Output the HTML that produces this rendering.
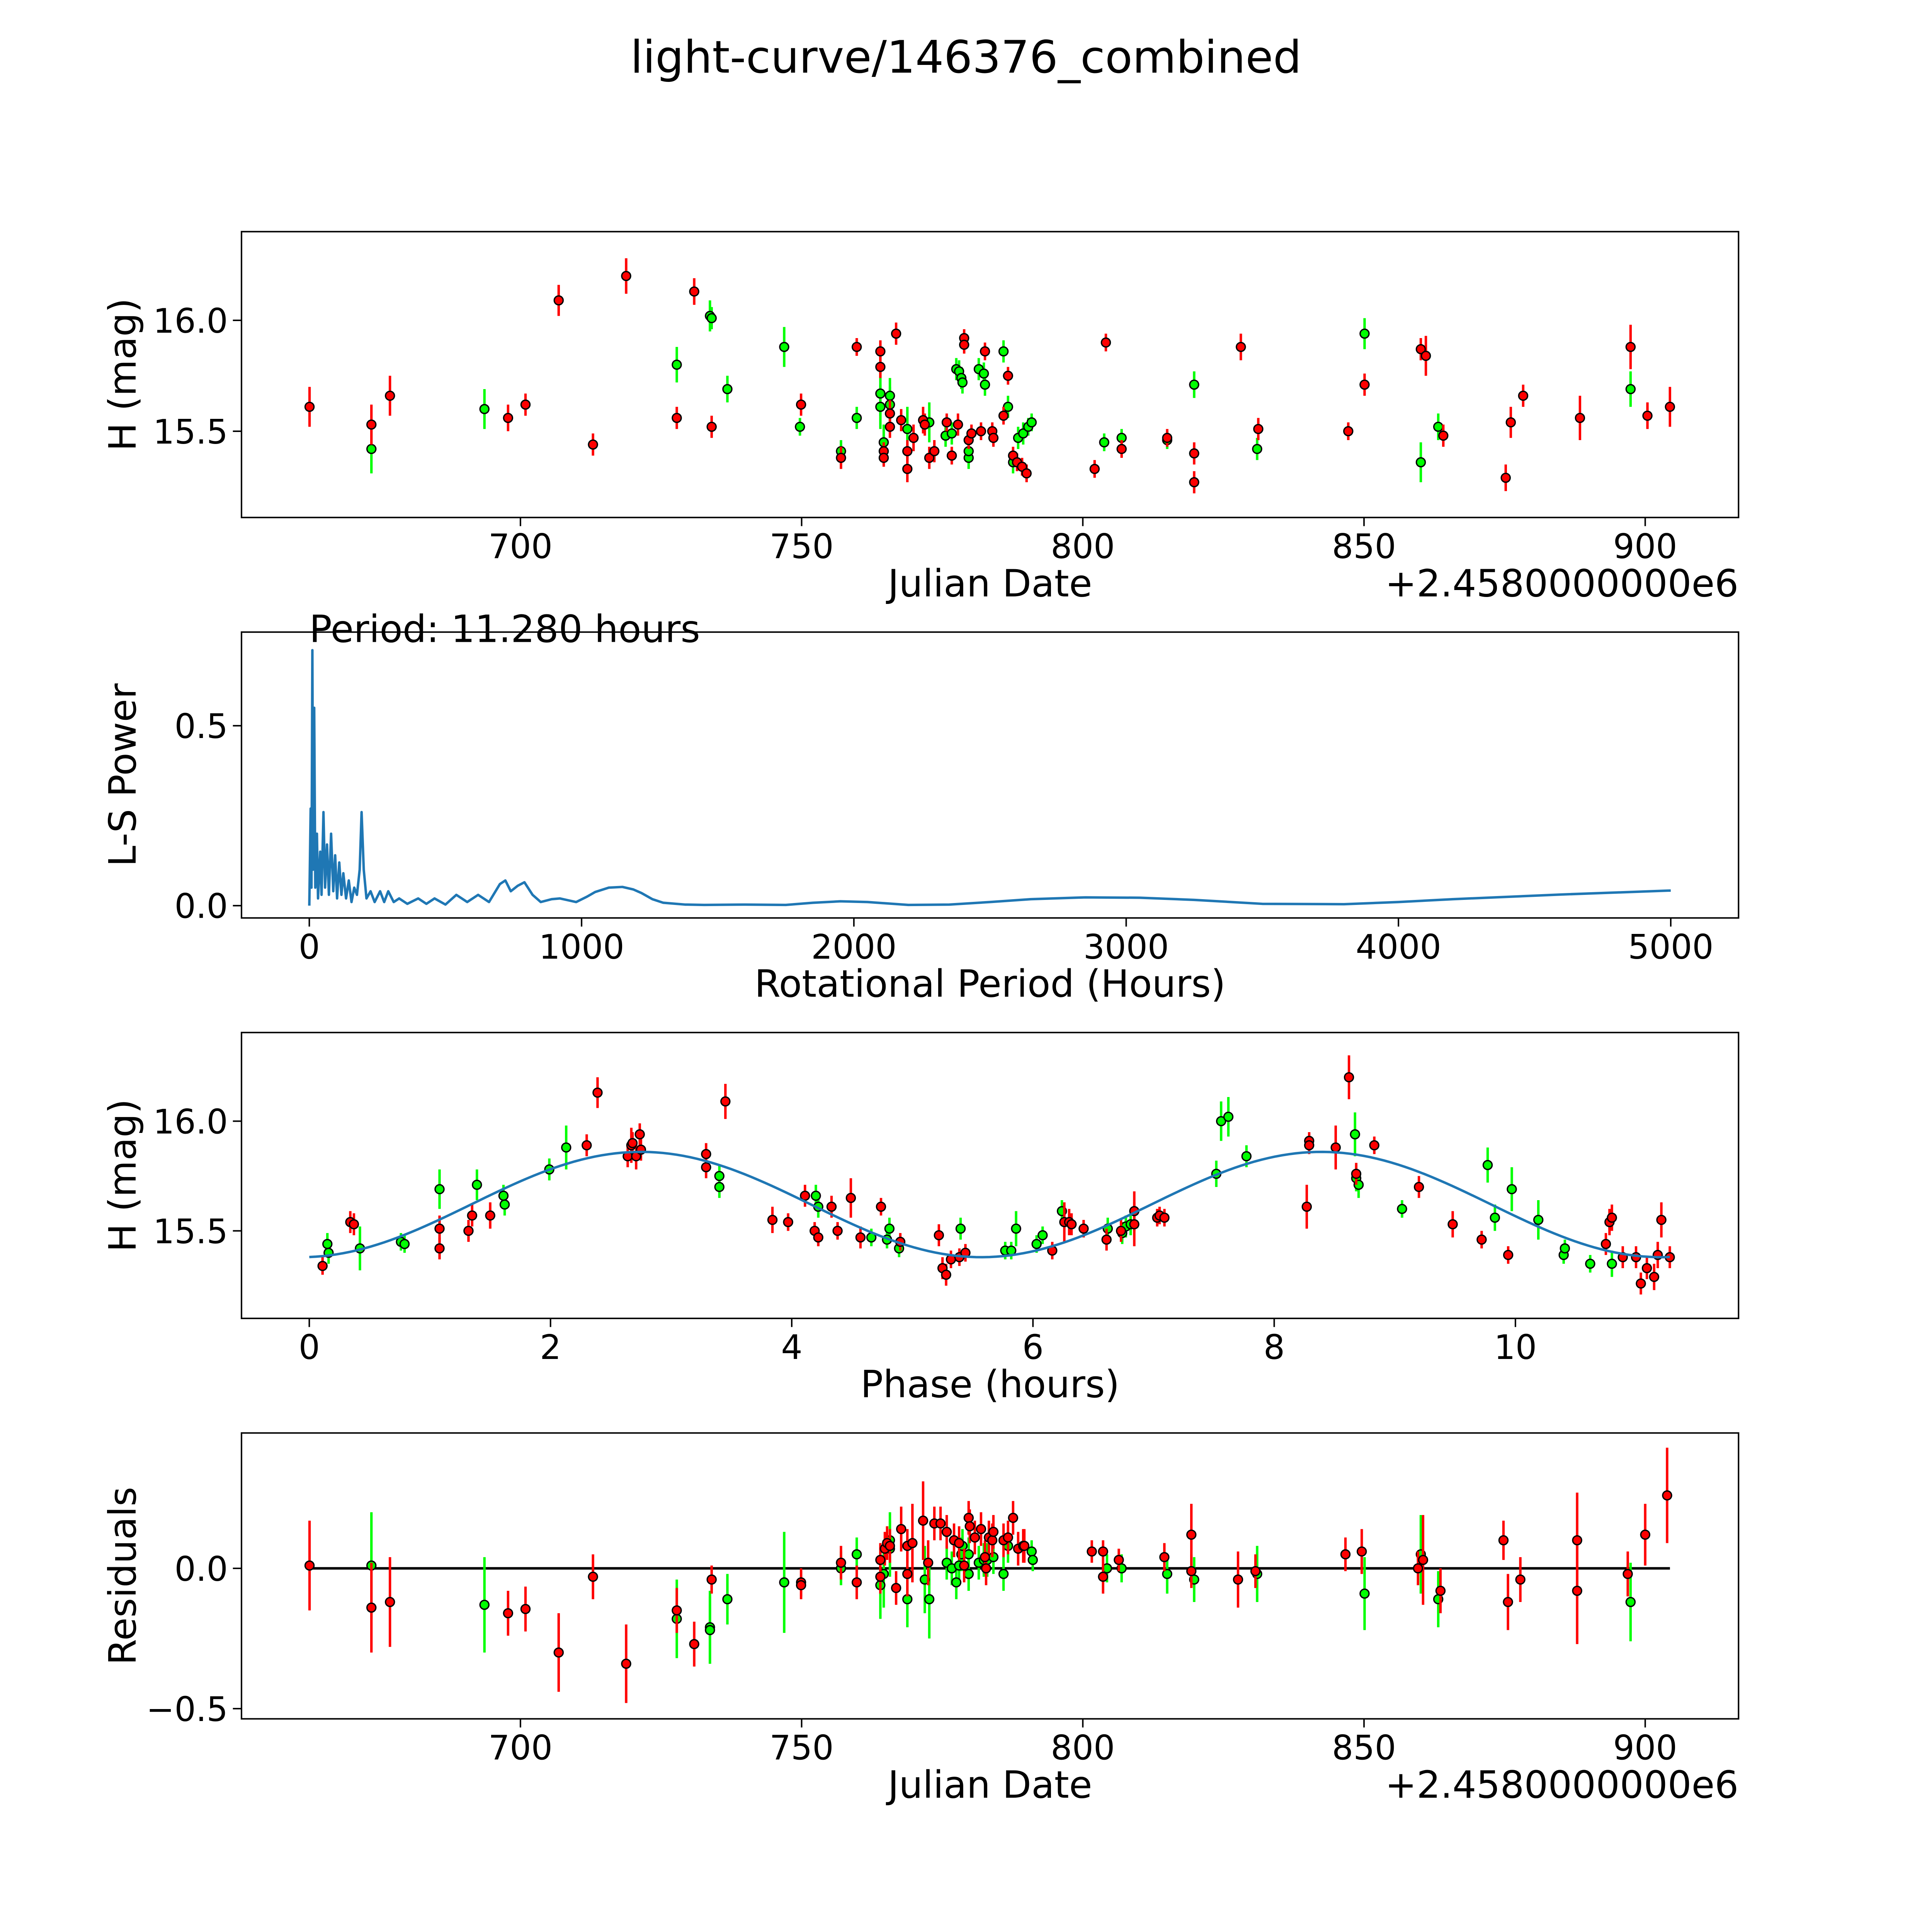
<!DOCTYPE html>
<html><head><meta charset="utf-8">
<style>
html,body{margin:0;padding:0;background:#fff;overflow:hidden;width:100vw;height:100vh;}
svg{display:block;position:absolute;left:0;top:0;width:100vw;height:100vh;}
text{font-family:"DejaVu Sans","Liberation Sans",sans-serif;fill:#000;}
</style></head>
<body>
<svg id="fig" xmlns="http://www.w3.org/2000/svg" viewBox="0 0 1568 1568" preserveAspectRatio="none">
<rect x="0" y="0" width="1568" height="1568" fill="#fff"/>
<text x="784" y="59" font-size="36.4" text-anchor="middle">light-curve/146376_combined</text>
</svg>
<script>
// ---------- Panel 1: light curve (JD - 2458000, mag) ----------
const lcRedJD = [662.5,673.5,676.8,697.8,700.9,706.8,712.9,718.8,727.8,730.9,734.0,749.9,757.0,759.8,764.0,764.0,764.6,764.6,765.7,765.7,766.8,767.7,768.8,768.8,769.9,771.6,771.9,772.7,773.6,775.8,776.7,777.8,778.9,778.9,779.7,780.2,781.9,782.6,783.9,784.1,785.9,786.7,787.6,788.3,789.2,790.0,802.1,804.1,806.9,815.0,819.8,819.8,828.1,831.2,847.2,850.1,860.1,861.0,864.1,875.2,876.1,878.3,888.4,897.4,900.4,904.4];
const lcRedMag = [15.61,15.53,15.66,15.56,15.62,16.09,15.44,16.20,15.56,16.13,15.52,15.62,15.38,15.88,15.86,15.79,15.41,15.38,15.58,15.52,15.94,15.55,15.33,15.41,15.47,15.55,15.53,15.38,15.41,15.54,15.39,15.53,15.92,15.89,15.46,15.49,15.50,15.86,15.50,15.47,15.57,15.75,15.39,15.36,15.34,15.31,15.33,15.90,15.42,15.47,15.40,15.27,15.88,15.51,15.50,15.71,15.87,15.84,15.48,15.29,15.54,15.66,15.56,15.88,15.57,15.61];
const lcRedErr = [0.09,0.09,0.09,0.06,0.05,0.07,0.05,0.08,0.05,0.06,0.05,0.05,0.05,0.04,0.05,0.05,0.04,0.04,0.06,0.05,0.05,0.05,0.06,0.05,0.06,0.06,0.05,0.05,0.05,0.04,0.04,0.05,0.04,0.04,0.04,0.04,0.04,0.04,0.04,0.04,0.04,0.04,0.04,0.04,0.04,0.04,0.04,0.04,0.04,0.04,0.05,0.05,0.06,0.05,0.04,0.05,0.05,0.09,0.05,0.06,0.07,0.05,0.1,0.1,0.06,0.09];
const lcGrnJD = [673.5,693.6,727.8,733.7,734.0,736.8,746.9,749.7,757.0,759.8,764.0,764.0,764.6,765.7,765.7,768.8,772.7,775.6,776.7,777.5,778.0,778.4,778.6,779.7,779.7,781.5,782.4,782.6,785.9,786.7,787.6,788.5,789.4,790.3,790.9,803.8,806.9,815.0,819.8,831.0,850.1,860.1,863.2,897.4];
const lcGrnMag = [15.42,15.60,15.80,16.02,16.01,15.69,15.88,15.52,15.41,15.56,15.67,15.61,15.45,15.66,15.62,15.51,15.54,15.48,15.49,15.78,15.77,15.74,15.72,15.38,15.41,15.78,15.76,15.71,15.86,15.61,15.36,15.47,15.49,15.52,15.54,15.45,15.47,15.46,15.71,15.42,15.94,15.36,15.52,15.69];
const lcGrnErr = [0.11,0.09,0.08,0.07,0.05,0.06,0.09,0.04,0.05,0.05,0.1,0.1,0.08,0.08,0.08,0.1,0.09,0.05,0.05,0.05,0.05,0.05,0.05,0.05,0.05,0.05,0.05,0.05,0.05,0.05,0.05,0.05,0.05,0.04,0.04,0.04,0.04,0.04,0.06,0.05,0.07,0.09,0.06,0.08];
const lcXTicks = [700,750,800,850,900];
const lcYTicks = [15.5,16.0];

// ---------- Panel 2: periodogram ----------
const pgPeriod = [0,5,8,11.28,14,18,22,28,32,40,45,52,58,65,72,80,88,95,102,110,118,125,135,145,155,165,175,185,192,200,210,225,240,260,275,290,310,330,360,400,430,460,500,540,580,620,660,700,720,740,765,790,820,850,890,920,950,980,1020,1050,1100,1150,1190,1220,1260,1300,1380,1450,1600,1750,1850,1950,2050,2200,2350,2500,2650,2850,3050,3250,3500,3800,4000,4200,4600,5000];
const pgPower = [0,0.27,0.05,0.71,0.1,0.55,0.05,0.2,0.02,0.15,0.03,0.26,0.05,0.17,0.03,0.2,0.04,0.14,0.02,0.12,0.03,0.09,0.02,0.07,0.01,0.05,0.03,0.1,0.26,0.1,0.02,0.04,0.01,0.04,0.01,0.04,0.01,0.02,0.005,0.02,0.005,0.02,0.003,0.03,0.01,0.03,0.01,0.06,0.07,0.04,0.055,0.065,0.03,0.01,0.018,0.02,0.015,0.01,0.025,0.038,0.05,0.052,0.045,0.035,0.018,0.008,0.003,0.002,0.003,0.002,0.008,0.012,0.01,0.002,0.003,0.01,0.018,0.023,0.022,0.016,0.005,0.004,0.01,0.018,0.031,0.042];
const pgXTicks = [0,1000,2000,3000,4000,5000];
const pgYTicks = [0.0,0.5];

// ---------- Panel 3: phased light curve ----------
const phRedX = [0.11,0.34,0.37,1.08,1.08,1.32,1.35,1.50,2.30,2.39,2.64,2.67,2.68,2.71,2.74,2.75,3.29,3.29,3.45,3.84,3.97,4.11,4.19,4.22,4.33,4.38,4.49,4.57,4.74,4.90,5.22,5.25,5.28,5.32,5.39,5.44,6.16,6.26,6.30,6.32,6.42,6.61,6.73,6.84,6.84,7.03,7.05,7.09,8.27,8.29,8.29,8.51,8.62,8.68,8.83,9.20,9.48,9.72,9.94,10.75,10.78,10.80,10.89,11.0,11.04,11.09,11.15,11.18,11.21,11.28];
const phRedMag = [15.34,15.54,15.53,15.42,15.51,15.50,15.57,15.57,15.89,16.13,15.84,15.89,15.90,15.84,15.94,15.87,15.85,15.79,16.09,15.55,15.54,15.66,15.50,15.47,15.61,15.50,15.65,15.47,15.61,15.45,15.48,15.33,15.30,15.37,15.38,15.40,15.41,15.54,15.54,15.53,15.51,15.46,15.50,15.53,15.59,15.56,15.57,15.56,15.61,15.91,15.89,15.88,16.20,15.76,15.89,15.70,15.53,15.46,15.39,15.44,15.54,15.56,15.38,15.38,15.26,15.33,15.29,15.39,15.55,15.38];
const phRedErr = [0.04,0.05,0.05,0.05,0.06,0.05,0.05,0.06,0.05,0.07,0.05,0.08,0.05,0.06,0.05,0.05,0.05,0.05,0.08,0.06,0.04,0.05,0.04,0.04,0.05,0.04,0.09,0.05,0.04,0.04,0.05,0.05,0.05,0.04,0.04,0.04,0.04,0.09,0.06,0.05,0.04,0.05,0.05,0.1,0.09,0.04,0.04,0.04,0.1,0.04,0.04,0.1,0.1,0.05,0.04,0.05,0.06,0.04,0.04,0.05,0.06,0.06,0.05,0.05,0.05,0.05,0.06,0.06,0.08,0.05];
const phGrnX = [0.15,0.16,0.42,0.76,0.79,1.08,1.39,1.61,1.62,1.99,2.13,3.40,3.40,4.20,4.22,4.66,4.79,4.81,4.89,5.40,5.77,5.82,5.86,6.03,6.08,6.24,6.62,6.74,6.77,6.81,7.52,7.56,7.62,7.77,8.67,8.68,8.70,9.06,9.77,9.83,9.97,10.19,10.40,10.41,10.62,10.80];
const phGrnMag = [15.44,15.40,15.42,15.45,15.44,15.69,15.71,15.66,15.62,15.78,15.88,15.75,15.70,15.66,15.61,15.47,15.46,15.51,15.42,15.51,15.41,15.41,15.51,15.44,15.48,15.59,15.51,15.49,15.52,15.53,15.76,16.0,16.02,15.84,15.94,15.74,15.71,15.60,15.80,15.56,15.69,15.55,15.39,15.42,15.35,15.35];
const phGrnErr = [0.05,0.05,0.1,0.04,0.04,0.09,0.07,0.05,0.05,0.05,0.1,0.05,0.05,0.05,0.05,0.04,0.04,0.05,0.04,0.05,0.04,0.04,0.08,0.04,0.04,0.05,0.05,0.05,0.05,0.05,0.06,0.09,0.09,0.05,0.1,0.06,0.06,0.04,0.08,0.06,0.1,0.09,0.04,0.04,0.04,0.06];
const fitParams = [15.62, 0.24, 2.75, 5.64]; // mean, amplitude, phase of max, half-period
const phXTicks = [0,2,4,6,8,10];
const phYTicks = [15.5,16.0];

// ---------- Panel 4: residuals ----------
const rsRedJD = [662.5,673.5,676.8,697.8,700.9,706.8,712.9,718.8,727.8,730.9,734.0,749.9,749.9,757.0,759.8,764.0,764.0,764.8,765.2,765.7,766.8,767.7,768.8,768.8,769.7,771.6,772.5,773.6,774.7,775.8,777.1,778.0,778.9,779.7,779.9,780.8,781.9,782.6,782.8,783.3,783.9,784.1,785.9,786.7,787.6,788.5,789.4,789.6,801.6,803.6,803.6,806.4,814.5,819.3,819.3,827.6,830.7,846.7,849.6,859.6,860.5,863.6,874.8,875.6,877.8,887.9,887.9,896.9,900.0,903.9];
const rsRedVal = [0.01,-0.14,-0.12,-0.16,-0.145,-0.30,-0.03,-0.34,-0.15,-0.27,-0.04,-0.05,-0.06,0.02,-0.05,0.03,-0.03,0.07,0.09,0.08,-0.07,0.14,-0.02,0.08,0.09,0.17,0.02,0.16,0.16,0.13,0.10,0.09,0.01,0.18,0.15,0.11,0.14,0.04,0.0,0.11,0.10,0.13,0.10,0.11,0.18,0.07,0.08,0.08,0.06,0.06,-0.03,0.03,0.04,0.12,-0.01,-0.04,-0.01,0.05,0.06,0.0,0.03,-0.08,0.10,-0.12,-0.04,0.10,-0.08,-0.02,0.12,0.26];
const rsRedErr = [0.16,0.16,0.16,0.08,0.08,0.14,0.08,0.14,0.08,0.08,0.05,0.05,0.05,0.06,0.06,0.06,0.06,0.06,0.06,0.06,0.06,0.08,0.08,0.06,0.14,0.14,0.08,0.06,0.06,0.06,0.06,0.06,0.06,0.06,0.06,0.06,0.06,0.06,0.06,0.06,0.06,0.06,0.06,0.06,0.06,0.06,0.06,0.06,0.04,0.04,0.06,0.04,0.05,0.11,0.06,0.1,0.06,0.06,0.08,0.06,0.16,0.08,0.07,0.1,0.08,0.17,0.19,0.08,0.11,0.17];
const rsGrnJD = [673.5,693.6,727.8,733.7,733.7,736.8,746.9,757.0,759.8,764.0,764.6,765.7,765.7,768.8,771.9,772.7,775.8,776.7,777.5,778.0,778.4,778.6,779.7,779.7,781.5,782.4,783.0,784.1,785.9,786.7,790.9,791.1,804.3,806.9,815.0,819.8,831.0,850.1,860.1,863.2,897.4];
const rsGrnVal = [0.01,-0.13,-0.18,-0.21,-0.22,-0.11,-0.05,0.0,0.05,-0.06,-0.02,0.10,0.07,-0.11,-0.04,-0.11,0.02,0.0,-0.05,0.01,0.05,0.08,0.05,-0.02,0.02,0.03,0.03,0.04,-0.02,0.08,0.06,0.03,0.0,0.0,-0.02,-0.04,-0.02,-0.09,0.05,-0.11,-0.12];
const rsGrnErr = [0.19,0.17,0.14,0.13,0.12,0.09,0.18,0.06,0.06,0.12,0.12,0.1,0.1,0.1,0.12,0.14,0.06,0.06,0.06,0.06,0.06,0.06,0.06,0.06,0.06,0.06,0.06,0.06,0.06,0.06,0.04,0.04,0.05,0.05,0.07,0.08,0.1,0.13,0.14,0.1,0.14];
const rsYTicks = [-0.5,0.0];

// ---------- helpers ----------
const NS = "http://www.w3.org/2000/svg";
const fig = document.getElementById('fig');
function mk(tag, attrs, parent){
  const e = document.createElementNS(NS, tag);
  for (const k in attrs) e.setAttribute(k, attrs[k]);
  (parent || fig).appendChild(e);
  return e;
}
const AX_L = 196, AX_R = 1411;
const TICK_FS = 27.3, LABEL_FS = 30.5;
function linScale(d0, d1, p0, p1){ return v => p0 + (v - d0) * (p1 - p0) / (d1 - d0); }

function makeAxes(name, top, bottom, xd, yd, xTicks, yTicks, xFmt, yFmt, xLabel, yLabel, offsetText){
  const g = mk('g', {});
  
  
  const sx = linScale(xd[0], xd[1], AX_L, AX_R);
  const sy = linScale(yd[0], yd[1], bottom, top);
  xTicks.forEach(t => {
    const x = sx(t);
    const tk = mk('line', {x1:x, x2:x, y1:bottom, y2:bottom+7, stroke:'#000', 'stroke-width':1.2}, g);
    
    
    const tl = mk('text', {x:x, y:bottom+33, 'font-size':TICK_FS, 'text-anchor':'middle'}, g);
    
    
    tl.textContent = xFmt(t);
  });
  yTicks.forEach(t => {
    const y = sy(t);
    const tk = mk('line', {x1:AX_L-7, x2:AX_L, y1:y, y2:y, stroke:'#000', 'stroke-width':1.2}, g);
    
    
    const tl = mk('text', {x:AX_L-11, y:y+10, 'font-size':TICK_FS, 'text-anchor':'end'}, g);
    
    
    tl.textContent = yFmt(t);
  });
  const xl = mk('text', {x:(AX_L+AX_R)/2, y:bottom+64, 'font-size':LABEL_FS, 'text-anchor':'middle'}, g);
  
  
  xl.textContent = xLabel;
  const yl = mk('text', {x:0, y:0, 'font-size':LABEL_FS, 'text-anchor':'middle', transform:`translate(${AX_L-86},${(top+bottom)/2}) rotate(-90)`}, g);
  
  
  yl.textContent = yLabel;
  if (offsetText){
    const ot = mk('text', {x:AX_R, y:bottom+64, 'font-size':LABEL_FS, 'text-anchor':'end'}, g);
    
    
    ot.textContent = offsetText;
  }
  const plot = mk('g', {}, g);
  
  
  const frame = () => {
    const f = mk('rect', {x:AX_L, y:top, width:AX_R-AX_L, height:bottom-top, fill:'none', stroke:'#000', 'stroke-width':1.2}, g);
    
    
  };
  return {sx, sy, plot, frame};
}

function drawPoints(ax, xs, ys, errs, color, name){
  const g = mk('g', {}, ax.plot);
  
  
  for (let i = 0; i < xs.length; i++){
    const x = ax.sx(xs[i]);
    const eb = mk('line', {x1:x, x2:x, y1:ax.sy(ys[i]-errs[i]), y2:ax.sy(ys[i]+errs[i]), stroke:color, 'stroke-width':2}, g);
    
    
  }
  for (let i = 0; i < xs.length; i++){
    const c = mk('circle', {cx:ax.sx(xs[i]), cy:ax.sy(ys[i]), r:3.6, fill:color, stroke:'#000', 'stroke-width':1.1}, g);
    
    
  }
}

const f2 = v => v.toFixed(1);
const fInt = v => String(v);

// Panel 1
const ax1 = makeAxes('light-curve-panel', 188, 420, [650.4, 916.6], [15.111, 16.4], lcXTicks, lcYTicks, fInt, f2, 'Julian Date', 'H (mag)', '+2.4580000000e6');
drawPoints(ax1, lcGrnJD, lcGrnMag, lcGrnErr, '#00ff00', 'green-band-points');
drawPoints(ax1, lcRedJD, lcRedMag, lcRedErr, '#ff0000', 'red-band-points');
ax1.frame();

// Panel 2
const ax2 = makeAxes('periodogram-panel', 513, 745, [-249, 5249], [-0.0342, 0.7603], pgXTicks, pgYTicks, fInt, f2, 'Rotational Period (Hours)', 'L-S Power', null);
{
  let d = '';
  for (let i = 0; i < pgPeriod.length; i++) d += (i ? 'L' : 'M') + ax2.sx(pgPeriod[i]).toFixed(2) + ',' + ax2.sy(pgPower[i]).toFixed(2);
  const p = mk('path', {d:d, fill:'none', stroke:'#1f77b4', 'stroke-width':2, 'stroke-linejoin':'round'}, ax2.plot);
  
  
  const pt = mk('text', {x:251, y:521, 'font-size':LABEL_FS}, ax2.plot);
  
  
  pt.textContent = 'Period: 11.280 hours';
}
ax2.frame();

// Panel 3
const ax3 = makeAxes('phase-panel', 838, 1070, [-0.562, 11.85], [15.101, 16.404], phXTicks, phYTicks, fInt, f2, 'Phase (hours)', 'H (mag)', null);
drawPoints(ax3, phGrnX, phGrnMag, phGrnErr, '#00ff00', 'phased-green-points');
drawPoints(ax3, phRedX, phRedMag, phRedErr, '#ff0000', 'phased-red-points');
{
  let d = '';
  const n = 200, pmax = 11.28;
  for (let i = 0; i <= n; i++){
    const p = pmax * i / n;
    const m = fitParams[0] + fitParams[1] * Math.cos(2 * Math.PI * (p - fitParams[2]) / fitParams[3]);
    d += (i ? 'L' : 'M') + ax3.sx(p).toFixed(2) + ',' + ax3.sy(m).toFixed(2);
  }
  const fl = mk('path', {d:d, fill:'none', stroke:'#1f77b4', 'stroke-width':2}, ax3.plot);
  
  
}
ax3.frame();

// Panel 4
const ax4 = makeAxes('residuals-panel', 1163, 1395, [650.4, 916.6], [-0.5364, 0.4825], lcXTicks, rsYTicks, fInt, v => (v < 0 ? '\u2212' : '') + Math.abs(v).toFixed(1), 'Julian Date', 'Residuals', '+2.4580000000e6');
{
  const zl = mk('line', {x1:ax4.sx(662.5), x2:ax4.sx(904.4), y1:ax4.sy(0), y2:ax4.sy(0), stroke:'#000', 'stroke-width':2}, ax4.plot);
  
  
}
drawPoints(ax4, rsGrnJD, rsGrnVal, rsGrnErr, '#00ff00', 'residual-green-points');
drawPoints(ax4, rsRedJD, rsRedVal, rsRedErr, '#ff0000', 'residual-red-points');
ax4.frame();
</script>
</body></html>
